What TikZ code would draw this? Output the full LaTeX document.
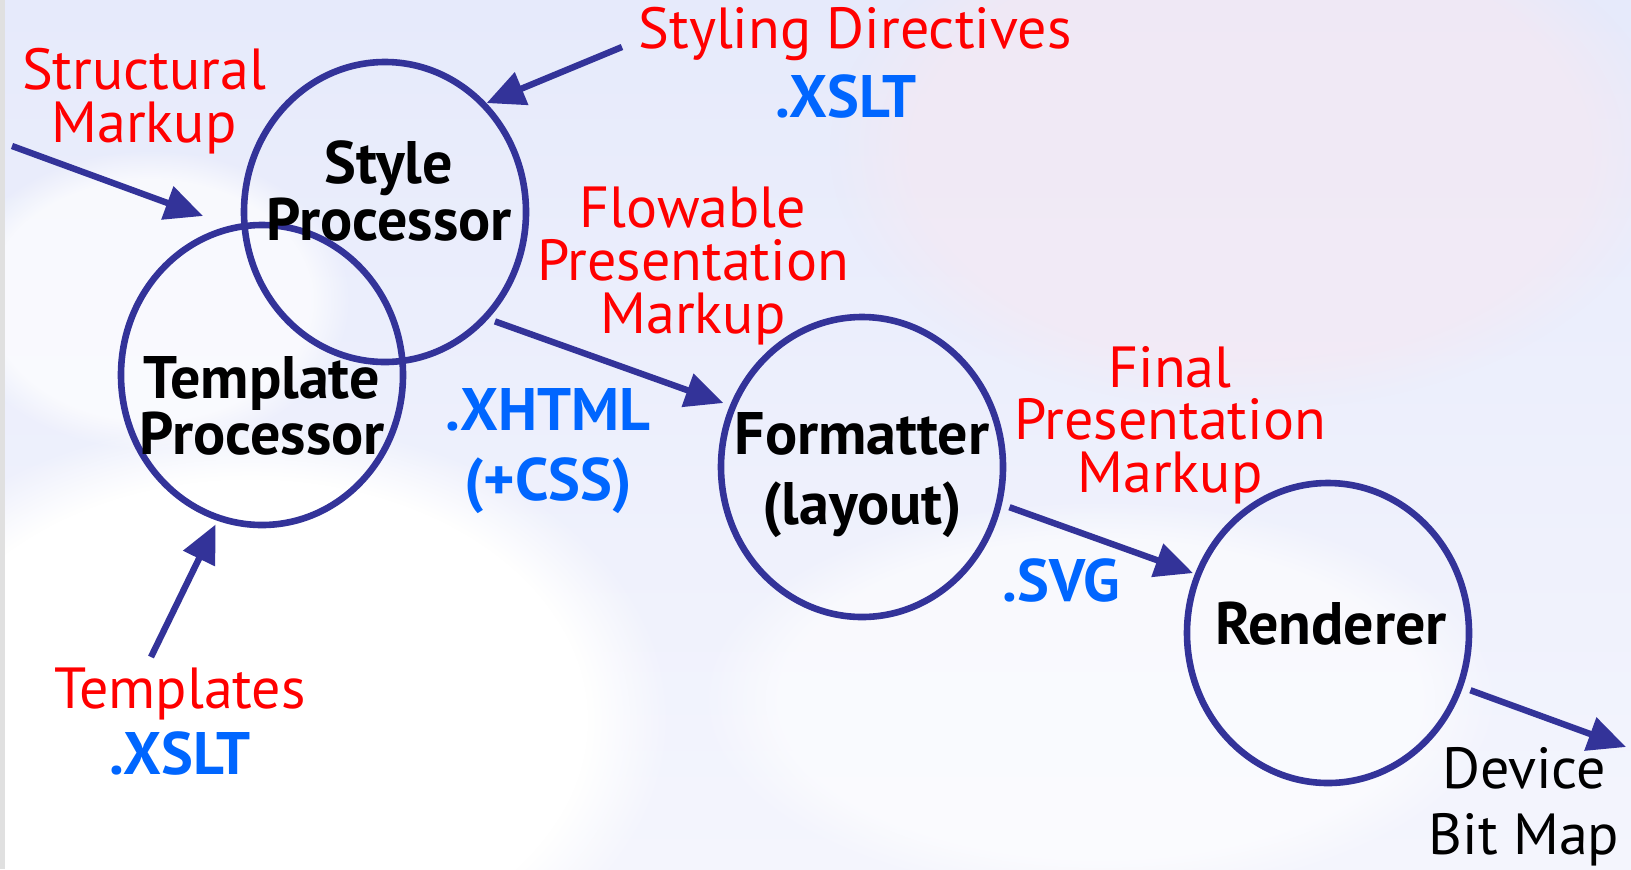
\documentclass[tikz,border=0pt]{standalone}
\usepackage{fontspec}
\setmainfont{PT Sans}
\usetikzlibrary{arrows.meta,shapes.geometric,fadings}
\definecolor{edgec}{HTML}{333399}
\definecolor{redt}{HTML}{FF0000}
\definecolor{bluet}{HTML}{0066FF}
\definecolor{bgtop}{HTML}{E6EAFB}
\definecolor{bgbot}{HTML}{F4F5FD}
\definecolor{bgpink}{HTML}{F6E8F2}
\tikzset{
  proc/.style={ellipse, draw=edgec, line width=3.3pt, minimum width=141pt, minimum height=150pt, inner sep=0pt},
  redlab/.style={text=redt, align=center, font=\fontsize{29}{26.3}\selectfont},
  bluelab/.style={text=bluet, align=center, font=\bfseries\fontsize{30}{35}\selectfont},
  blacklab/.style={text=black, align=center, font=\bfseries\fontsize{30}{27}\selectfont},
  arr/.style={draw=edgec, line width=3.2pt, -{Triangle[length=19pt,width=17pt]}},
}
\begin{document}
\begin{tikzpicture}[x=0.5pt,y=-0.5pt]
\useasboundingbox (0,0) rectangle (1631,869);
% background
\shade[top color=bgtop, bottom color=bgbot] (0,0) rectangle (1631,869);
\fill[white, path fading=circle with fuzzy edge 20 percent] (250,720) ellipse [x radius=420, y radius=300];
\fill[white, opacity=0.7, path fading=circle with fuzzy edge 20 percent] (150,300) ellipse [x radius=200, y radius=150];
\fill[bgpink, opacity=0.6, path fading=circle with fuzzy edge 20 percent] (1250,150) ellipse [x radius=420, y radius=260];
\fill[white, opacity=0.6, path fading=circle with fuzzy edge 20 percent] (1100,700) ellipse [x radius=400, y radius=200];
\fill[black!12] (0,0) rectangle (5,869);

% process ellipses
\node[proc] (tp) at (262,375) {};
\node[proc] (sp) at (385,212) {};
\node[proc] (fm) at (862,467) {};
\node[proc] (rd) at (1328,633) {};

% ellipse texts
\node[blacklab] (sptext) at (389,191) {Style\\Processor};
\node[blacklab] (tptext) at (262,406) {Template\\Processor};
\node[blacklab, font=\bfseries\fontsize{30}{35}\selectfont] (fmtext) at (862,475) {Formatter\\(layout)};
\node[blacklab] (rdtext) at (1331,624) {Renderer};

% labels
\node[redlab] (sm) at (144,101) {Structural\\Markup};
\node[redlab] (sd) at (855,34) {Styling Directives};
\node[bluelab] (sdx) at (846,96) {.XSLT};
\node[redlab] (fpm) at (693,266) {Flowable\\Presentation\\Markup};
\node[bluelab] (xh) at (548,451) {.XHTML\\(+CSS)};
\node[redlab] (fin) at (1170,425) {Final\\Presentation\\Markup};
\node[bluelab] (svg) at (1061,580) {.SVG};
\node[redlab] (tpl) at (180,694) {Templates};
\node[bluelab] (tplx) at (180,753) {.XSLT};
\node[text=black, align=center, font=\fontsize{29}{33}\selectfont] (dbm) at (1524,807) {Device\\Bit Map};

% free ends
\coordinate (smstart) at (12,146);
\coordinate (smtip) at (203,216);
\coordinate (sdstart) at (622,47);
\coordinate (tplstart) at (151,657);
\coordinate (outtip) at (1626,747);

% arrows
\draw[arr] (smstart) -- (smtip);
\draw[arr] (sdstart) -- (sp.47);
\draw[arr, shorten >=2pt] (tplstart) -- (tp.-107);
\draw[arr, shorten <=3.5pt, shorten >=3.5pt] (sp.-46) -- (fm.155);
\draw[arr, shorten <=4pt, shorten >=1pt] (fm.-15) -- (rd.156);
\draw[arr, shorten <=4pt] (rd.-22) -- (outtip);
\end{tikzpicture}
\end{document}
